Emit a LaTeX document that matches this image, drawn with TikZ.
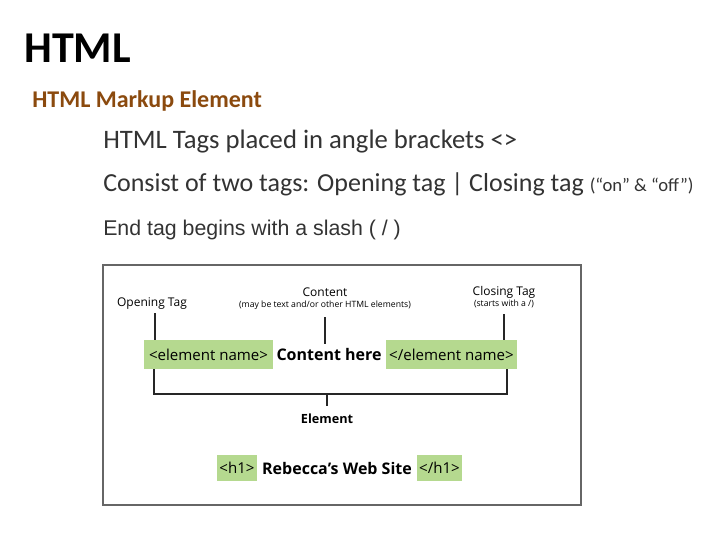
\documentclass[tikz,border=0pt]{standalone}
\usepackage{fontspec}
\setmainfont{Carlito}
\newfontfamily\arialf{Liberation Sans}
\newfontfamily\diagf{Open Sans}
\definecolor{tagg}{HTML}{B5D98F}
\definecolor{brn}{HTML}{8B4A0E}
\definecolor{txt}{HTML}{333333}
\begin{document}
\begin{tikzpicture}[x=0.75pt,y=-0.75pt,
  lbl/.style={font=\diagf\fontsize{8}{9}\selectfont,inner sep=0pt,align=center},
  tag/.style={fill=tagg,inner sep=0pt,font=\diagf\fontsize{11.3}{13}\selectfont},
  line/.style={draw=black!85,line width=0.8pt}]
\useasboundingbox (0,0) rectangle (720,540);
\node[anchor=west,inner sep=0pt,font=\fontsize{33}{36}\selectfont\bfseries] (title) at (24,48) {HTML};
\node[anchor=west,inner sep=0pt,text=brn,font=\fontsize{18}{20}\selectfont\bfseries] (sub) at (32,101) {HTML Markup Element};
\node[anchor=west,inner sep=0pt,text=txt,font=\fontsize{20}{22}\selectfont] (l1) at (103,142) {HTML Tags placed in angle brackets <>};
\node[anchor=west,inner sep=0pt,text=txt,font=\fontsize{19.5}{22}\selectfont] (l2) at (103,184) {Consist of two tags: Opening tag | Closing tag {\fontsize{14}{16}\selectfont(“on” \& “off”)}};
\node[anchor=west,inner sep=0pt,text=txt,font=\arialf\fontsize{16}{18}\selectfont] (l3) at (103,230) {End tag begins with a slash ( / )};
\node[draw=black!60,line width=0.8pt,minimum width=478*0.75pt,minimum height=240*0.75pt,inner sep=0pt] (frame) at (342,385) {};
\node[tag,minimum width=129*0.75pt,minimum height=29*0.75pt] (open) at (208.5,354.5) {<element name>};
\node[inner sep=0pt,font=\diagf\fontsize{12}{13}\selectfont\bfseries] (content) at (329,354.5) {Content here};
\node[tag,minimum width=131*0.75pt,minimum height=29*0.75pt] (close) at (451.5,354.5) {</element name>};
\node[lbl,font=\diagf\fontsize{9}{10}\selectfont] (olbl) at (152,304) {Opening Tag};
\node[lbl] (clbl) at (325,299) {{\fontsize{9}{10}\selectfont Content}\\[-1pt]{\fontsize{6.5}{7}\selectfont (may be text and/or other HTML elements)}};
\node[lbl] (cllbl) at (504,297) {{\fontsize{9}{10}\selectfont Closing Tag}\\[-1pt]{\fontsize{6.5}{7}\selectfont (starts with a /)}};
\coordinate (o1) at (155,313); \coordinate (c1) at (325,317); \coordinate (k1) at (504,314);
\draw[line] (o1) -- (155,340);
\draw[line] (c1) -- (325,344);
\draw[line] (k1) -- (504,340);
\draw[line] (154,369) -- (154,394) -- (507,394) -- (507,369);
\coordinate (mid) at (327,394);
\node[inner sep=0pt,font=\diagf\fontsize{9.5}{11}\selectfont\bfseries] (elem) at (327,419) {Element};
\draw[line] (mid) -- (327,406);
\node[tag,minimum width=40*0.75pt,minimum height=26*0.75pt] (h1o) at (237,468) {<h1>};
\node[inner sep=0pt,font=\diagf\fontsize{12}{13}\selectfont\bfseries] (reb) at (337,468) {Rebecca’s Web Site};
\node[tag,minimum width=45*0.75pt,minimum height=26*0.75pt] (h1c) at (439.5,468) {</h1>};
\end{tikzpicture}
\end{document}
